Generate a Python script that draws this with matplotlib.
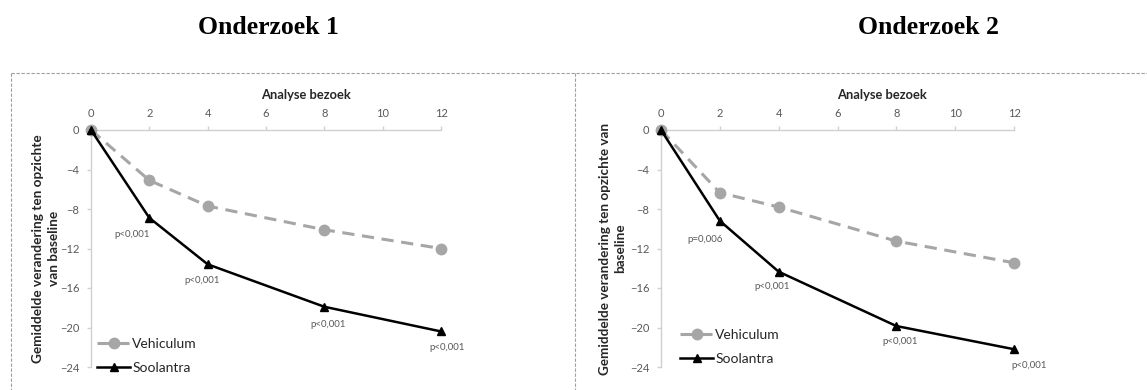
import numpy as np
import matplotlib
matplotlib.use('Agg')
import matplotlib.pyplot as plt
from matplotlib.lines import Line2D
from matplotlib.transforms import Affine2D

W, H = 1147, 390

# Data (weeks vs. mean change from baseline)
weeks = [0, 2, 4, 8, 12]
veh_1 = [0, -5.1, -7.7, -10.1, -12.0]
sool_1 = [0, -8.9, -13.6, -17.9, -20.4]
pvals_1 = ['p<0,001', 'p<0,001', 'p<0,001', 'p<0,001']

veh_2 = [0, -6.35, -7.8, -11.25, -13.45]
sool_2 = [0, -9.2, -14.35, -19.85, -22.2]
pvals_2 = ['p=0,006', 'p<0,001', 'p<0,001', 'p<0,001']

titles = ['Onderzoek 1', 'Onderzoek 2']
ylabels = ['Gemiddelde verandering ten opzichte\nvan baseline',
           'Gemiddelde verandering ten opzichte van\nbaseline']
xlabel = 'Analyse bezoek'
xticks = [0, 2, 4, 6, 8, 10, 12]
yticks = [0, -4, -8, -12, -16, -20, -24]

FONT = ['Lato', 'DejaVu Sans']
AXCOL = '#d0d0d0'
TXTCOL = '#595959'

fig = plt.figure(figsize=(W / 100, H / 100), dpi=100)
# pixel coords from top-left corner
pix = Affine2D().scale(1, -1).translate(0, H)

def px(x0, y0, x1, y1):
    # pixel box -> figure fraction rect
    return [x0 / W, 1 - y1 / H, (x1 - x0) / W, (y1 - y0) / H]

boxes = [px(91, 130, 441, 367), px(661, 130, 1014, 367)]
ylab_x = [-0.09, -0.099]
ylab_size = [9.8, 9.7]
xlab_x = [0.614, 0.626]
pv_offsets = [
    [(-12.5, -12), (-4.2, -12), (2.4, -12.5), (4.3, -11.7)],
    [(-10.5, -13.2), (-4.7, -11), (2.5, -10.8), (10.6, -12)],
]
leg_pos = [[(97, 344), (97, 368)], [(680, 335), (680, 359)]]
title_x = [268, 928]

for k, (veh, sool, pv) in enumerate([(veh_1, sool_1, pvals_1), (veh_2, sool_2, pvals_2)]):
    ax = fig.add_axes(boxes[k])
    l1, = ax.plot(weeks, veh, color='#a6a6a6', lw=2.2, dashes=(4, 2.5), marker='o',
                  ms=7.5, mec='#a6a6a6', mfc='#a6a6a6', label='Vehiculum',
                  clip_on=False, zorder=3)
    l2, = ax.plot(weeks, sool, color='black', lw=1.8, marker='^', ms=6,
                  label='Soolantra', clip_on=False, zorder=4)
    for i, t in enumerate(pv):
        ax.annotate(t, (weeks[i + 1], sool[i + 1]), xytext=pv_offsets[k][i],
                    textcoords='offset points', ha='center', va='center',
                    fontsize=7, color=TXTCOL, family=FONT)

    ax.set_xlim(0, 12)
    ax.set_ylim(-24, 0)
    ax.set_xticks(xticks)
    ax.set_yticks(yticks)
    ax.xaxis.tick_top()
    ax.xaxis.set_label_position('top')
    ax.set_xlabel(xlabel, fontsize=9.3, fontweight='bold', family=FONT, color='#262626')
    ax.xaxis.set_label_coords(xlab_x[k], 1.13)
    ax.set_ylabel(ylabels[k], fontsize=ylab_size[k], fontweight='bold', family=FONT,
                  linespacing=1.35, color='#262626')
    ax.yaxis.set_label_coords(ylab_x[k], 0.5)
    for s in ['right', 'bottom']:
        ax.spines[s].set_visible(False)
    for s in ['top', 'left']:
        ax.spines[s].set_color(AXCOL)
        ax.spines[s].set_linewidth(1.0)
    ax.tick_params(axis='both', colors=AXCOL, labelcolor=TXTCOL, labelsize=8,
                   length=3, width=1.0, direction='out')
    ax.tick_params(axis='x', pad=5)
    ax.tick_params(axis='y', pad=5.5)
    for lab in ax.get_xticklabels() + ax.get_yticklabels():
        lab.set_family(FONT)
    ax.patch.set_alpha(0)

    # one legend per entry so each row can sit where the reference has it
    for h, (lx, ly) in zip([l1, l2], leg_pos[k]):
        leg = fig.legend([h], [h.get_label()], loc='center left',
                         bbox_to_anchor=(lx, ly), bbox_transform=pix,
                         frameon=False, prop={'family': FONT, 'size': 10},
                         handlelength=2.4, handletextpad=0.15,
                         borderpad=0, borderaxespad=0)
        for t in leg.get_texts():
            t.set_color('#262626')

    fig.text(title_x[k] / W, 1 - 27 / H, titles[k], ha='center', va='center',
             fontsize=18.5, fontweight='bold', family=['Liberation Serif', 'DejaVu Serif'])

# dashed panel borders
bc = '#a0a0a0'
kw = dict(color=bc, lw=0.8, ls=(0, (3, 1.5)), transform=fig.transFigure)
fig.add_artist(Line2D([11 / W, 1], [1 - 73 / H, 1 - 73 / H], **kw))
fig.add_artist(Line2D([11 / W, 11 / W], [1 - 73 / H, 0], **kw))
fig.add_artist(Line2D([575 / W, 575 / W], [1 - 73 / H, 0], **kw))

fig.savefig('out.png', dpi=100)
